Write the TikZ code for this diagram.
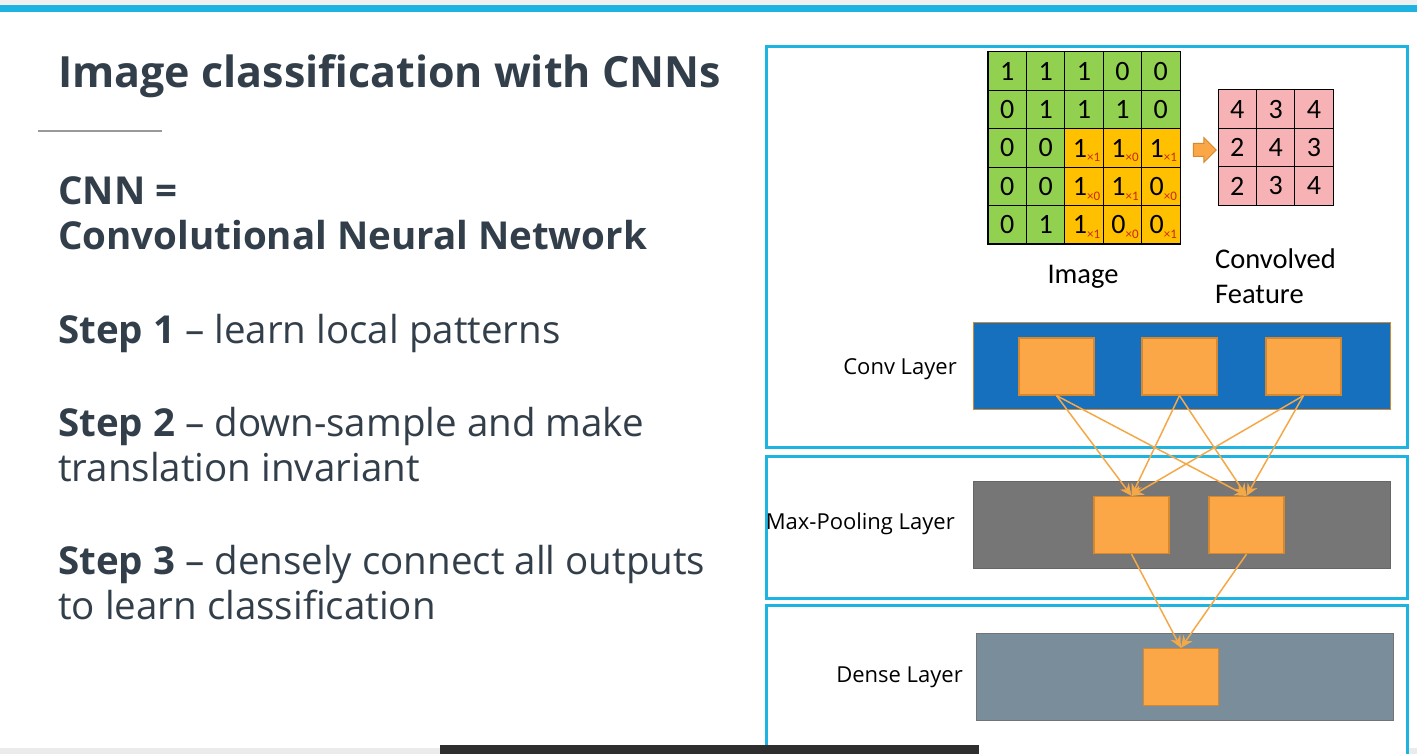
\documentclass[tikz,border=0pt]{standalone}
\usepackage{fontspec}
\setmainfont{Open Sans}
\newfontfamily\calib{Carlito}
\usetikzlibrary{arrows.meta,shapes.arrows,calc}

\definecolor{framecyan}{RGB}{30,180,225}
\definecolor{ink}{RGB}{50,63,74}
\definecolor{cellgreen}{RGB}{146,208,80}
\definecolor{cellorange}{RGB}{255,192,0}
\definecolor{cellpink}{RGB}{246,178,180}
\definecolor{convblue}{RGB}{22,112,189}
\definecolor{poolgray}{RGB}{118,118,118}
\definecolor{denseslate}{RGB}{121,142,154}
\definecolor{unitorange}{RGB}{251,167,72}
\definecolor{unitedge}{RGB}{214,136,46}
\definecolor{wireorange}{RGB}{245,168,72}
\definecolor{kernred}{RGB}{200,40,20}

\begin{document}
\begin{tikzpicture}[x=1pt,y=-1pt,
  panel/.style={draw=framecyan,line width=3pt,fill=white,inner sep=0pt,anchor=north west},
  cell/.style={draw=black,line width=1pt,minimum width=38.4pt,minimum height=38.4pt,
    inner sep=0pt,font=\calib\fontsize{28}{28}\selectfont,text=black},
  digit/.style={font=\calib\fontsize{28}{28}\selectfont,inner sep=0pt},
  kern/.style={font=\calib\fontsize{13}{13}\selectfont,text=kernred,inner sep=0pt},
  caption/.style={font=\calib\fontsize{28.5}{35}\selectfont,text=black},
  layer/.style={line width=1pt,inner sep=0pt,minimum width=417pt,minimum height=87pt},
  unit/.style={fill=unitorange,draw=unitedge,line width=1.2pt,minimum width=75pt,minimum height=57pt,inner sep=0pt},
  layerlabel/.style={font=\fontsize{22}{26}\selectfont,text=black,anchor=east,inner sep=0pt},
  wire/.style={draw=wireorange,line width=1.5pt,-{Stealth[length=12pt,width=11pt]}},
  slidetext/.style={text=ink,anchor=base west,inner sep=0pt,font=\fontsize{38.5}{44}\selectfont}
]
\useasboundingbox (0,0) rectangle (1417,754);
\fill[white] (0,0) rectangle (1417,754);

% window strip and top rule
\fill[black!6] (0,0) rectangle (1417,5);
\fill[framecyan] (0,5) rectangle (1417,12);
\fill[black!8] (0,748) rectangle (1417,754);

% ---------- left column ----------
\node[slidetext,font=\fontsize{43}{50}\selectfont\bfseries] (title) at (58,88) {Image classification with CNNs};
\draw[black!40,line width=1.5pt] (38,131) -- (162,131);

\node[slidetext,font=\fontsize{38.5}{44}\selectfont\bfseries] (cnn) at (58,205) {CNN =};
\node[slidetext,font=\fontsize{38.5}{44}\selectfont\bfseries] (cnnlong) at (58,250) {Convolutional Neural Network};

\node[slidetext] (s1) at (58,343) {\textbf{Step 1} – learn local patterns};
\node[slidetext] (s2) at (58,436) {\textbf{Step 2} – down-sample and make};
\node[slidetext] (s2b) at (58,481) {translation invariant};
\node[slidetext] (s3) at (58,574) {\textbf{Step 3} – densely connect all outputs};
\node[slidetext] (s3b) at (58,619) {to learn classification};

% ---------- right column: frames ----------
\node[panel,minimum width=641pt,minimum height=401pt] (boxconv) at (765,45) {};
\node[panel,minimum width=641pt,minimum height=142pt] (boxpool) at (765,455) {};
\node[panel,minimum width=641pt,minimum height=150pt] (boxdense) at (765,604) {};

% ---------- input image with the 3x3 kernel ----------
\foreach \row [count=\r] in {{1,1,1,0,0},{0,1,1,1,0},{0,0,1,1,1},{0,0,1,1,0},{0,1,1,0,0}}{
  \foreach \v [count=\c] in \row {
    \pgfmathsetmacro{\cx}{988+19.2+(\c-1)*38.4}
    \pgfmathsetmacro{\cy}{52+19.2+(\r-1)*38.4}
    \def\cellfill{cellgreen}
    \ifnum\r>2 \ifnum\c>2 \def\cellfill{cellorange}\fi\fi
    \node[cell,fill=\cellfill] (img-\r-\c) at (\cx,\cy) {};
    \ifnum\r>2 \ifnum\c>2
      \pgfmathtruncatemacro{\w}{mod(\r+\c+1,2)}
      \node[digit] at ($(img-\r-\c.center)+(-4,0)$) {\v};
      \node[kern] at ($(img-\r-\c.south east)+(-10,-10)$) {×\w};
    \fi\fi
    \ifnum\r<3 \node[digit] at (img-\r-\c.center) {\v};\fi
    \ifnum\r>2 \ifnum\c<3 \node[digit] at (img-\r-\c.center) {\v};\fi\fi
  }
}
\draw[black,line width=1.2pt] (img-1-1.north west) rectangle (img-5-5.south east);

% ---------- convolved feature ----------
\foreach \row [count=\r] in {{4,3,4},{2,4,3},{2,3,4}}{
  \foreach \v [count=\c] in \row {
    \pgfmathsetmacro{\cx}{1218+19.2+(\c-1)*38.4}
    \pgfmathsetmacro{\cy}{90+19.2+(\r-1)*38.4}
    \node[cell,fill=cellpink] (feat-\r-\c) at (\cx,\cy) {\v};
  }
}

\node[single arrow,fill=unitorange,draw=unitedge,line width=1pt,minimum height=23pt,
  inner xsep=0pt,inner ysep=6pt,single arrow head extend=6pt,
  single arrow head indent=0pt] (convflow) at (1201.5,150) {};

\node[caption] (imgcap) at (1083,277) {Image};
\node[caption,align=left,anchor=west,inner sep=0pt] (featcap) at (1215,276) {Convolved\\Feature};

% ---------- layers ----------
\node[layer,fill=convblue,draw=unitedge] (conv) at (1181.5,366) {};
\node[layer,fill=poolgray,draw=black!60] (pool) at (1182,525) {};
\node[layer,fill=denseslate,draw=black!55] (dense) at (1184.5,677) {};

\node[unit] (c1) at (1056.5,366.5) {};
\node[unit] (c2) at (1179.5,366.5) {};
\node[unit] (c3) at (1303.5,366.5) {};
\node[unit] (p1) at (1131.5,525) {};
\node[unit] (p2) at (1246.5,525) {};
\node[unit] (d1) at (1181,677) {};

\node[layerlabel] (convlab) at (957,369) {Conv Layer};
\begin{scope}
  \clip (766.5,456) rectangle (1000,596);
  \node[layerlabel] (poollab) at (955,524) {Max-Pooling Layer};
\end{scope}
\node[layerlabel] (denselab) at (963,677) {Dense Layer};

% ---------- connections ----------
\foreach \a in {c1,c2,c3}{
  \foreach \b in {p1,p2}{
    \draw[wire] (\a.south) -- (\b.north);
  }
}
\foreach \a in {p1,p2}{
  \draw[wire] (\a.south) -- (d1.north);
}

% caption bar at the foot
\fill[black!82] (440,745) rectangle (979,754);
\end{tikzpicture}
\end{document}
